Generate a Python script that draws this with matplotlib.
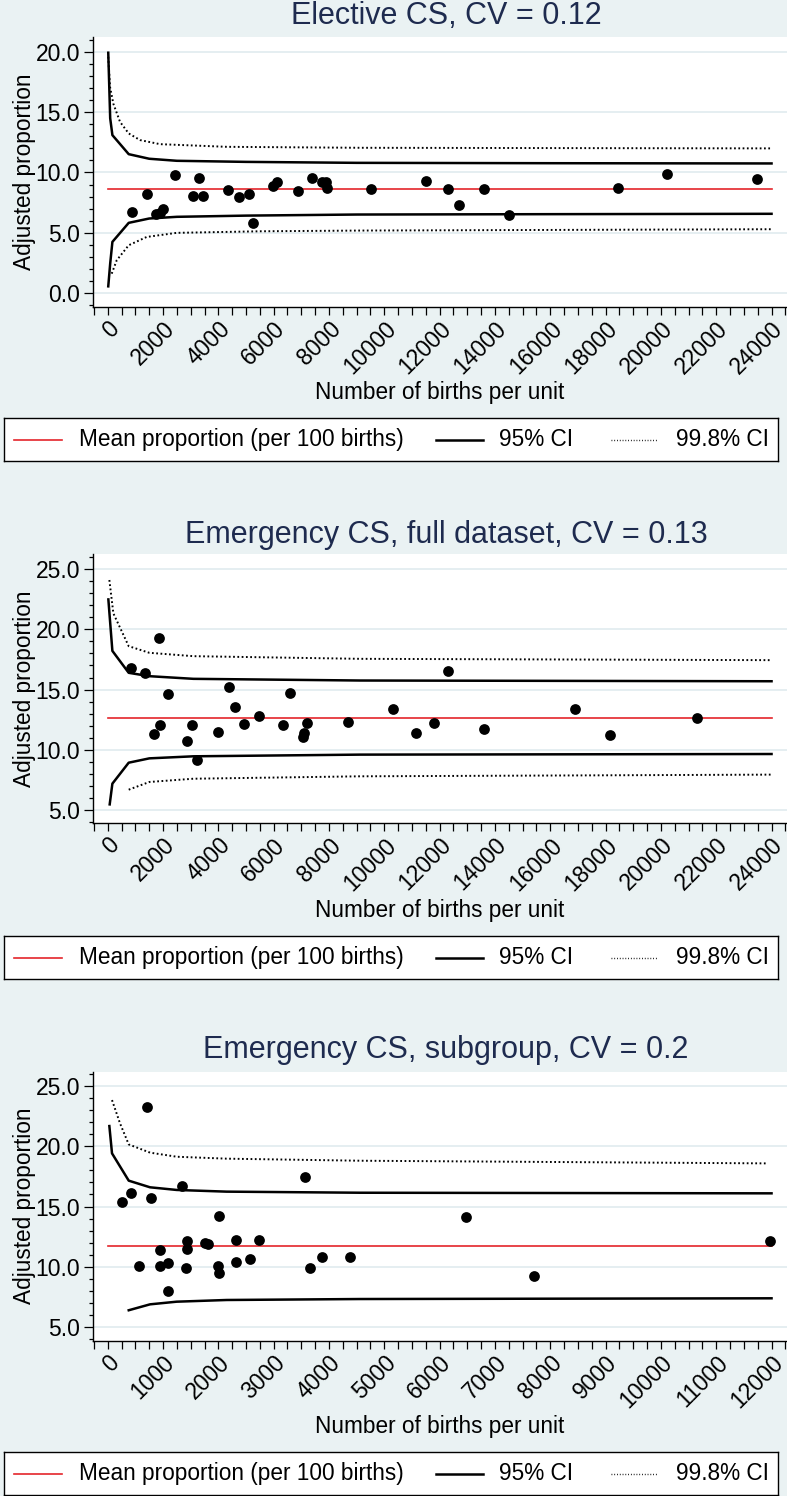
import matplotlib
matplotlib.use('Agg')
import matplotlib.pyplot as plt
from matplotlib.ticker import MultipleLocator

plt.rcParams['font.family'] = ['Liberation Sans', 'DejaVu Sans']

# ---- Elective CS ----
e_births = [867, 1434, 1747, 1904, 2000, 2434, 3096, 3313, 3446, 4337, 4759, 5096, 5241, 5988, 6120,
            6867, 7375, 7765, 7885, 7945, 9508, 11496, 12291, 12712, 13592, 14496, 18459, 20208, 23461]
e_prop = [6.73, 8.25, 6.59, 6.65, 6.98, 9.83, 8.06, 9.53, 8.03, 8.56, 7.98, 8.23, 5.82, 8.86, 9.17,
          8.50, 9.52, 9.25, 9.17, 8.74, 8.59, 9.31, 8.61, 7.29, 8.64, 6.51, 8.75, 9.89, 9.45]
e_mean = 8.64
e_ci_x = [20, 90, 170, 760, 1500, 2500, 5000, 9000, 16000, 24000]
e_up95 = [19.94, 14.5, 13.1, 11.52, 11.14, 10.97, 10.88, 10.80, 10.77, 10.75]
e_lo95 = [0.55, 2.44, 4.24, 5.82, 6.18, 6.32, 6.42, 6.51, 6.54, 6.57]
e_up998_x = [20, 84, 205, 446, 759, 1169, 1892, 4300, 9120, 24000]
e_up998 = [19.6, 17.1, 15.7, 14.2, 13.24, 12.69, 12.35, 12.13, 12.05, 12.0]
e_lo998_x = [145, 325, 759, 1410, 2494, 5506, 9120, 24000]
e_lo998 = [1.6, 2.71, 3.96, 4.65, 4.99, 5.12, 5.18, 5.29]

# ---- Emergency CS, full dataset ----
f_births = [831, 1350, 1868, 1675, 1904, 2193, 2868, 3037, 3241, 4000, 4374, 4615, 4928, 5459,
            6350, 6579, 7049, 7110, 7206, 8670, 10303, 11157, 11785, 12291, 13615, 16893, 18158, 21314]
f_prop = [16.75, 16.39, 19.32, 11.34, 12.04, 14.61, 10.71, 12.06, 9.16, 11.51, 15.19, 13.53, 12.15, 12.84,
          12.06, 14.72, 11.09, 11.43, 12.20, 12.29, 13.42, 11.43, 12.23, 16.52, 11.70, 13.42, 11.23, 12.67]
f_mean = 12.67
f_up95_x = [24, 169, 759, 1506, 3097, 9120, 24000]
f_up95 = [22.48, 18.21, 16.39, 16.11, 15.89, 15.75, 15.69]
f_lo95_x = [72, 169, 759, 1506, 3097, 9120, 24000]
f_lo95 = [5.47, 7.19, 8.93, 9.29, 9.46, 9.60, 9.65]
f_up998_x = [60, 205, 759, 1506, 3097, 9120, 24000]
f_up998 = [24.09, 21.32, 18.6, 18.05, 17.77, 17.55, 17.44]
f_lo998_x = [759, 1506, 3097, 9120, 24000]
f_lo998 = [6.69, 7.33, 7.6, 7.8, 7.94]

# ---- Emergency CS, subgroup ----
s_births = [259, 428, 717, 789, 572, 952, 952, 1090, 1090, 1337, 1428, 1440, 1416, 1753, 1813,
            2006, 1988, 2018, 2313, 2313, 2572, 2729, 3560, 3657, 3879, 4373, 6478, 7714, 11981]
s_prop = [15.40, 16.14, 23.21, 15.73, 10.05, 11.37, 10.08, 10.35, 7.98, 16.72, 12.14, 11.46, 9.94, 12.01, 11.90,
          14.21, 10.08, 9.50, 12.20, 10.38, 10.63, 12.26, 17.41, 9.91, 10.85, 10.85, 14.16, 9.28, 12.14]
s_mean = 11.76
s_up95_x = [30, 78, 380, 765, 1247, 2150, 4560, 12000]
s_up95 = [21.66, 19.4, 17.14, 16.59, 16.37, 16.23, 16.14, 16.09]
s_lo95_x = [380, 765, 1247, 2150, 4560, 12000]
s_lo95 = [6.41, 6.90, 7.12, 7.26, 7.34, 7.40]
s_up998_x = [78, 223, 380, 765, 1247, 2150, 4560, 11900]
s_up998 = [23.81, 21.88, 20.14, 19.46, 19.12, 18.96, 18.79, 18.57]

titles = ['Elective CS, CV = 0.12', 'Emergency CS, full dataset, CV = 0.13', 'Emergency CS, subgroup, CV = 0.2']

W, H = 787, 1496
BG = '#eaf2f3'
NAVY = '#1e2b4f'
RED = '#e4252b'
GRID = '#e3edf0'
DOT = (0, (0.9, 1.3))

fig = plt.figure(figsize=(W / 100, H / 100), dpi=100, facecolor=BG)


def rect(x0, y0, x1, y1):
    # pixel box (top-left origin) -> figure fraction
    return [x0 / W, 1 - y1 / H, (x1 - x0) / W, (y1 - y0) / H]


def panel(top, bottom, xmax, xmajor, xminor, ylim, yticks, title_y, xlab_y, leg_y,
          births, prop, mean, lines, title):
    ax = fig.add_axes(rect(92.7, top, 787, bottom))
    ax.set_facecolor('white')
    x_left = -15 / 13.83 * (xminor)
    x_right = (787 - 107.7) / 13.83 * xminor
    ax.set_xlim(x_left, x_right)
    ax.set_ylim(*ylim)
    for sp in ['top', 'right']:
        ax.spines[sp].set_visible(False)
    ax.spines['left'].set_linewidth(1.0)
    ax.spines['bottom'].set_linewidth(1.0)
    ax.set_yticks(yticks)
    ax.set_yticklabels(['%.1f' % v for v in yticks])
    ax.yaxis.set_minor_locator(MultipleLocator(1))
    ax.set_xticks(range(0, xmax + 1, xmajor))
    ax.xaxis.set_minor_locator(MultipleLocator(xminor))
    ax.tick_params(axis='y', which='major', length=6.5, width=0.9, labelsize=16.5, pad=2.5)
    ax.tick_params(axis='y', which='minor', length=3.2, width=0.9)
    ax.tick_params(axis='x', which='both', length=5.5, width=0.9, labelsize=16.5, pad=2)
    for lab in ax.get_xticklabels():
        lab.set_rotation(45)
        lab.set_ha('right')
        lab.set_va('top')
        lab.set_rotation_mode('anchor')
    ax.grid(axis='y', which='major', color=GRID, lw=1.3)
    ax.set_axisbelow(True)

    ax.plot([0, xmax], [mean, mean], color=RED, lw=1.2, zorder=2)
    for (lx, ly, style) in lines:
        if style == 'solid':
            ax.plot(lx, ly, color='black', lw=1.8, zorder=2)
        else:
            ax.plot(lx, ly, color='black', lw=1.4, ls=DOT, zorder=2)
    ax.scatter(births, prop, s=60, color='black', zorder=3, linewidths=0)

    fig.text(446 / W, 1 - title_y / H, title, ha='center', va='center', fontsize=22, color=NAVY)
    fig.text(92.7 / W - 68 / W, 1 - (top + bottom) / 2 / H, 'Adjusted proportion', rotation=90,
             ha='center', va='center', fontsize=16.3)
    fig.text(440 / W, 1 - xlab_y / H, 'Number of births per unit', ha='center', va='center', fontsize=16.3)

    # legend box
    lg = fig.add_axes(rect(4, leg_y, 778, leg_y + 43))
    lg.set_xlim(0, 774)
    lg.set_ylim(0, 1)
    lg.set_xticks([])
    lg.set_yticks([])
    lg.set_facecolor('white')
    for sp in lg.spines.values():
        sp.set_linewidth(1.0)
    lg.plot([10, 58], [0.5, 0.5], color=RED, lw=1.2)
    lg.text(75, 0.5, 'Mean proportion (per 100 births)', va='center', ha='left', fontsize=16.3)
    lg.plot([432, 479], [0.5, 0.5], color='black', lw=1.8)
    lg.text(495, 0.5, '95% CI', va='center', ha='left', fontsize=16.3)
    lg.plot([607, 654], [0.5, 0.5], color='black', lw=1.0, ls=(0, (0.6, 1.4)))
    lg.text(672, 0.5, '99.8% CI', va='center', ha='left', fontsize=16.3)
    return ax


panel(36.7, 306.7, 24000, 2000, 500, (-1.14, 21.27), [0, 5, 10, 15, 20], 16, 392, 418,
      e_births, e_prop, e_mean,
      [(e_ci_x, e_up95, 'solid'), (e_ci_x, e_lo95, 'solid'),
       (e_up998_x, e_up998, 'dot'), (e_lo998_x, e_lo998, 'dot')], titles[0])

panel(554, 823.3, 24000, 2000, 500, (3.9, 26.25), [5, 10, 15, 20, 25], 535, 910, 936,
      f_births, f_prop, f_mean,
      [(f_up95_x, f_up95, 'solid'), (f_lo95_x, f_lo95, 'solid'),
       (f_up998_x, f_up998, 'dot'), (f_lo998_x, f_lo998, 'dot')], titles[1])

panel(1071.7, 1340.7, 12000, 1000, 250, (3.89, 26.16), [5, 10, 15, 20, 25], 1050, 1427, 1452,
      s_births, s_prop, s_mean,
      [(s_up95_x, s_up95, 'solid'), (s_lo95_x, s_lo95, 'solid'),
       (s_up998_x, s_up998, 'dot')], titles[2])

fig.savefig('out.png', dpi=100, facecolor=BG)
